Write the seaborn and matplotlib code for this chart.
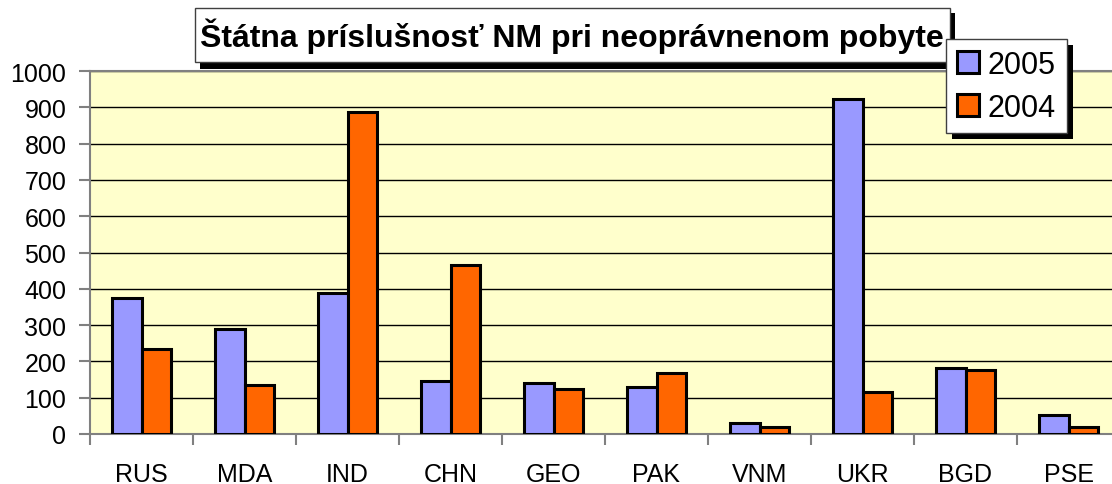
import numpy as np
import pandas as pd
import matplotlib
matplotlib.use('Agg')
import matplotlib.pyplot as plt
from matplotlib.patches import Rectangle
import seaborn as sns

countries = ['RUS', 'MDA', 'IND', 'CHN', 'GEO', 'PAK', 'VNM', 'UKR', 'BGD', 'PSE']
values_2005 = [376, 289, 388, 145, 140, 130, 29, 923, 183, 51]
values_2004 = [234, 135, 886, 466, 123, 168, 20, 115, 176, 18]
years = ['2005', '2004']
colors = ['#9999FF', '#FF6600']
title = 'Štátna príslušnosť NM pri neoprávnenom pobyte'

W, H = 1112, 485

df = pd.DataFrame({
    'country': countries * 2,
    'value': values_2005 + values_2004,
    'year': ['2005'] * len(countries) + ['2004'] * len(countries),
})

sns.set_theme(style='white')
plt.rcParams['font.family'] = ['Liberation Sans', 'DejaVu Sans']
plt.rcParams['text.color'] = 'black'
plt.rcParams['xtick.labelcolor'] = 'black'
plt.rcParams['ytick.labelcolor'] = 'black'

fig = plt.figure(figsize=(W / 100, H / 100), dpi=100)
fig.patch.set_facecolor('white')


def px_box(x0, y0, x1, y1):
    # pixel box (top-left origin) -> figure fraction rect
    return (x0 / W, 1 - y1 / H, (x1 - x0) / W, (y1 - y0) / H)


def px_rect(x0, y0, x1, y1, **kw):
    l, b, w, h = px_box(x0, y0, x1, y1)
    return Rectangle((l, b), w, h, transform=fig.transFigure, **kw)


ax = fig.add_axes(px_box(90, 72, 1120, 435))
ax.set_facecolor('#FFFFCC')

sns.barplot(data=df, x='country', y='value', hue='year', hue_order=years,
            order=countries, palette=colors, saturation=1, width=0.57,
            edgecolor='black', linewidth=2.2, ax=ax, zorder=3)

ax.set_ylim(0, 1000)
ax.set_xlim(-0.5, len(countries) - 0.5)
ax.set_yticks(np.arange(0, 1001, 100))
ax.yaxis.grid(True, color='black', linewidth=1)
ax.set_axisbelow(True)
ax.set_xlabel('')
ax.set_ylabel('')

for s in ax.spines.values():
    s.set_color('#808080')
    s.set_linewidth(1.5)

ax.tick_params(axis='y', which='major', left=True, length=8, width=1.5,
               color='#808080', labelsize=18, pad=9, labelcolor='black')
ax.tick_params(axis='x', which='major', bottom=True, length=0, labelsize=18,
               pad=20, labelcolor='black')
ax.set_xticks(np.arange(-0.5, len(countries), 1), minor=True)
ax.tick_params(axis='x', which='minor', bottom=True, length=8, width=1.5,
               color='#808080')

handles, labels = ax.get_legend_handles_labels()
ax.get_legend().remove()

# title box with drop shadow
fig.patches.append(px_rect(200, 14, 955, 70, facecolor='black', edgecolor='none', zorder=2))
fig.patches.append(px_rect(195, 9, 950, 63, facecolor='white', edgecolor='#404040',
                           linewidth=1, zorder=2.5))
fig.text(572 / W, 1 - 36 / H, title, ha='center', va='center', fontsize=23,
         fontweight='bold', color='black', zorder=3)

leg = fig.legend(handles, labels, loc='upper left', bbox_to_anchor=(946 / W, 1 - 40 / H),
                 borderaxespad=0, fontsize=22, frameon=True, fancybox=False,
                 edgecolor='#404040', framealpha=1, handlelength=0.72,
                 handleheight=0.72, handletextpad=0.3, borderpad=0.35,
                 labelspacing=0.42, labelcolor='black')
leg.set_zorder(6)
leg.get_frame().set_linewidth(1)

fig.canvas.draw()
bb = leg.get_window_extent()
fig.patches.append(Rectangle(((bb.x0 + 6) / W, (bb.y0 - 6) / H), bb.width / W, bb.height / H,
                             transform=fig.transFigure, facecolor='black',
                             edgecolor='none', zorder=5))

fig.savefig('out.png', dpi=100)
